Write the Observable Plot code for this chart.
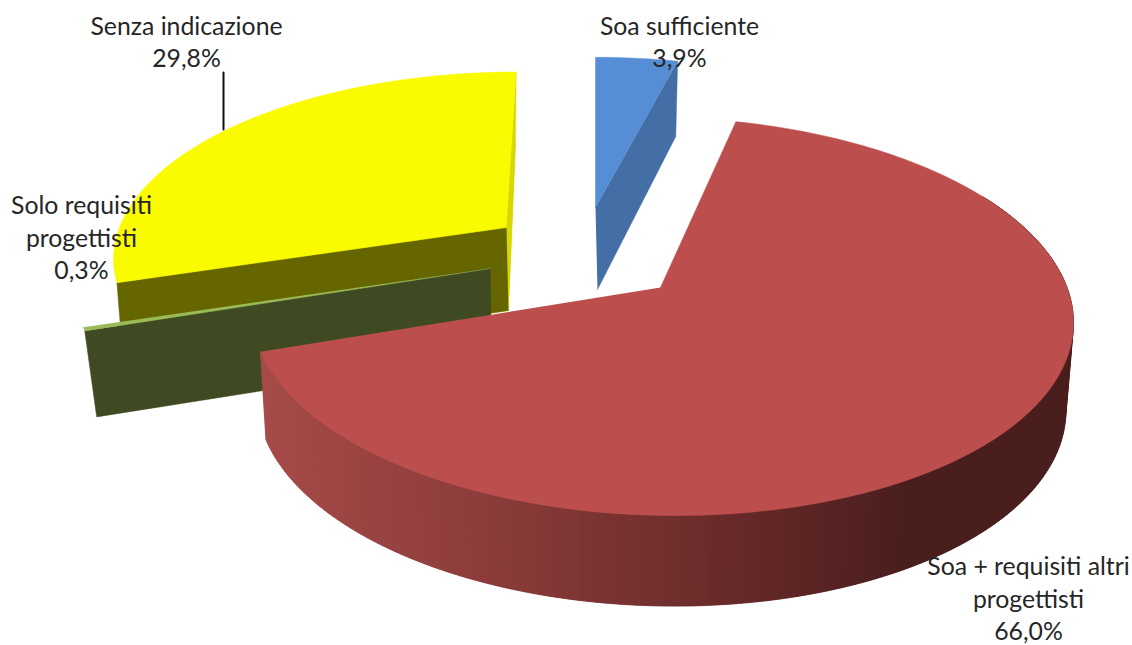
<!DOCTYPE html>
<html><head><meta charset="utf-8">
<script src="https://cdn.jsdelivr.net/npm/d3@7"></script>
<script src="https://cdn.jsdelivr.net/npm/@observablehq/plot@0.6"></script>
<style>html,body{margin:0;padding:0;background:#fff}svg{display:block}</style>
</head><body><script>
const categories = ["Soa sufficiente", "Soa + requisiti altri\nprogettisti", "Solo requisiti\nprogettisti", "Senza indicazione"];
const shares = [3.9, 66.0, 0.3, 29.8];

// Layout and style, kept apart from the data
const look = [
  {top:"#558ed5", cut:"#436ea6", rim:"#436ea6", ax:595, ay:207, a:386, b:172, e:0,   bx:2,  d:82, ba:376, bb:180, be:-2},
  {top:"#bc4f4d", cut:"#bc4f4d", rim:"#4b1e1e", ax:660, ay:287, a:406.5, b:195, e:-13, bx:-1, d:87, ba:400, bb:198, be:-13},
  {top:"#9bbb59", cut:"#3f4a23", rim:"#3f4a23", ax:490, ay:268, a:408, b:189, e:0,   bx:1,  d:86, ba:397, bb:189, be:0},
  {top:"#fafa00", cut:"#666600", rim:"#d8d800", ax:506, ay:227, a:387, b:178, e:11,  bx:2,  d:83, ba:383, bb:190, be:8}
];
const labelSpots = [[679,40],[1028,597],[81,236],[186,40]];
const k = 0.145, rad = Math.PI/180;

const cum = d3.cumsum(shares);
const spans = shares.map((v,i)=>[(cum[i]-v)*3.6, cum[i]*3.6]);

function pt(s, deg, low){
  const X = Math.sin(deg*rad), Y = Math.cos(deg*rad), w = 1+k*Y;
  return low
    ? {x:s.ax+s.bx+(s.ba*X+s.be*Y)/w, y:s.ay+s.d-s.bb*Y/w}
    : {x:s.ax+(s.a*X+s.e*Y)/w, y:s.ay-s.b*Y/w};
}
const apex = (s,low)=> low ? {x:s.ax+s.bx,y:s.ay+s.d} : {x:s.ax,y:s.ay};
const range = (from,to,step=1)=>{const n=Math.max(1,Math.ceil((to-from)/step));return d3.range(n+1).map(i=>from+(to-from)*i/n);};

const polys = [];
let pid = 0;
const add = (pts,color)=>{pid++;pts.forEach(p=>polys.push({x:p.x,y:p.y,id:pid,color}));};

// Back to front: yellow, green, blue, red
function slab(i){
  const s = look[i], [t0,t1] = spans[i];
  if(i===3){ add([apex(s,true),...range(t0,t1).map(t=>pt(s,t,true))], s.rim); }
  if(i===3){ add([apex(s,false),pt(s,t1,false),pt(s,t1,true),apex(s,true)], s.rim); }
  if(i===3||i===2){ add([apex(s,false),pt(s,t0,false),pt(s,t0,true),apex(s,true)], s.cut); }
  if(i===0){ add([apex(s,false),pt(s,t1,false),pt(s,t1,true),apex(s,true)], s.cut); }
  if(i===1){
    const shade = d3.scaleLinear().domain([265,500,800,900]).range(["#a64b49","#8a3b39","#5c2524",s.rim]).clamp(true);
    const ring = range(60,t1,1);
    ring.slice(0,-1).forEach((p,j)=>{
      const q = ring[Math.min(j+2,ring.length-1)], m = ring[j+1];
      const a=pt(s,p,false), b=pt(s,q,false), c=pt(s,q,true), d=pt(s,p,true);
      add([a,b,c,d], shade((pt(s,m,true).x+d.x)/2));
    });
  }
  add([apex(s,false),...range(t0,t1).map(t=>pt(s,t,false))], s.top);
}
[3,2,0,1].forEach(slab);

const labels = categories.map((c,i)=>({
  text:c+"\n"+shares[i].toFixed(1).replace(".",",")+"%",
  x:labelSpots[i][0], y:labelSpots[i][1]
}));
const leader = [{x:223,y:72},{x:223,y:129}];

const chart = Plot.plot({
  width:1132, height:645, margin:0,
  x:{domain:[0,1132],axis:null}, y:{domain:[645,0],axis:null},
  color:{type:"identity"},
  style:{background:"#fff"},
  marks:[
    Plot.line(polys,{x:"x",y:"y",z:"id",fill:"color",stroke:"color",strokeWidth:0.5}),
    Plot.line(leader,{x:"x",y:"y",stroke:"#111",strokeWidth:2}),
    Plot.text(labels,{x:"x",y:"y",text:"text",fontFamily:"Lato",fontSize:24.8,lineHeight:1.31,lineAnchor:"middle",fill:"#262626"})
  ]
});
document.body.appendChild(chart);
</script></body></html>
